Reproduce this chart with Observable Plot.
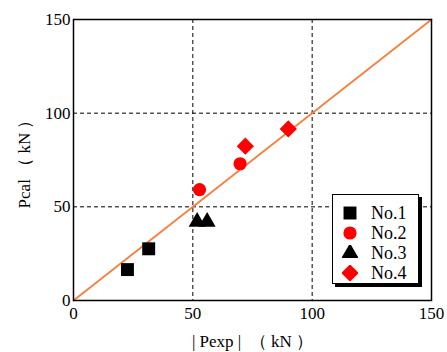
<!DOCTYPE html>
<html>
<head>
<meta charset="utf-8">
<script src="https://cdn.jsdelivr.net/npm/d3@7"></script>
<script src="https://cdn.jsdelivr.net/npm/@observablehq/plot@0.6"></script>
<style>
body { margin: 0; background: #fff; }
#wrap { position: relative; width: 447px; height: 352px; font-family: "Times New Roman", "Liberation Serif", "DejaVu Serif", serif; }
#wrap svg text { font-family: "Times New Roman", "Liberation Serif", "DejaVu Serif", serif; }
#legend { position: absolute; left: 332px; top: 194px; width: 87px; height: 90px; box-sizing: border-box; border: 1.3px solid #000; background: #fff; box-shadow: 3px 3px 0 #000; }
#legend .row { position: absolute; left: 0; height: 20px; display: flex; align-items: center; font-size: 18px; }
#legend svg { margin-left: 9px; margin-right: 13px; }
</style>
</head>
<body>
<div id="wrap"></div>
<script>
const series = ["No.1", "No.2", "No.3", "No.4"];
const symbols = ["square", "circle", "triangle", "diamond2"];
const colors = ["#000000", "#ff0000", "#000000", "#ff0000"];
const sizes = [7.3, 6.6, 6.3, 7.8];
const pexp = [
  [22.6, 31.5],
  [52.8, 69.8],
  [51.8, 56.0],
  [72.0, 90.0]
];
const pcal = [
  [16.5, 27.6],
  [59.2, 73.0],
  [42.0, 42.0],
  [82.4, 91.6]
];
const ticks = [0, 50, 100, 150];
const gridTicks = [50, 100];
const diag = [[0, 0], [150, 150]];

const rows = [];
series.forEach((s, i) => pexp[i].forEach((x, j) => rows.push({s, x, y: pcal[i][j], sym: symbols[i], c: colors[i], r: sizes[i]})));

const chart = Plot.plot({
  width: 447, height: 352,
  marginLeft: 73, marginRight: 16, marginTop: 19, marginBottom: 52,
  style: {fontSize: "17px", color: "#000", background: "#fff"},
  x: {domain: [0, 150]},
  y: {domain: [0, 150]},
  marks: [
    Plot.gridX(gridTicks, {stroke: "#000", strokeOpacity: 1, strokeDasharray: "4,3", strokeWidth: 1}),
    Plot.gridY(gridTicks, {stroke: "#000", strokeOpacity: 1, strokeDasharray: "4,3", strokeWidth: 1}),
    Plot.axisX(ticks, {tickSize: 0, tickPadding: 6, label: "| Pexp |  （ kN ）", labelArrow: "none", labelAnchor: "center", labelOffset: 46, fontSize: 17}),
    Plot.axisY(ticks, {tickSize: 0, tickPadding: 3, label: "Pcal （ kN ）", labelArrow: "none", labelAnchor: "center", labelOffset: 56, fontSize: 17}),
    Plot.line(diag, {x: d => d[0], y: d => d[1], stroke: "#f5803e", strokeWidth: 1.8}),
    Plot.dot(rows, {x: "x", y: "y", symbol: d => d.sym, fill: d => d.c, r: d => d.r, stroke: "none"}),
    Plot.frame({stroke: "#000", strokeWidth: 1.5})
  ],
  symbol: {type: "identity"},
  r: {type: "identity"},
  color: {type: "identity"}
});
const wrap = document.getElementById("wrap");
wrap.appendChild(chart);

const legend = document.createElement("div");
legend.id = "legend";
const symMap = {square: d3.symbolSquare, circle: d3.symbolCircle, triangle: d3.symbolTriangle, diamond2: d3.symbolDiamond2};
series.forEach((s, i) => {
  const row = document.createElement("div");
  row.className = "row";
  row.style.top = (8 + i * 20) + "px";
  const path = d3.symbol(symMap[symbols[i]], Math.PI * sizes[i] * sizes[i])();
  row.innerHTML = `<svg width="16" height="16" viewBox="-8 -8 16 16"><path d="${path}" fill="${colors[i]}"/></svg><span>${s}</span>`;
  legend.appendChild(row);
});
wrap.appendChild(legend);
</script>
</body>
</html>
